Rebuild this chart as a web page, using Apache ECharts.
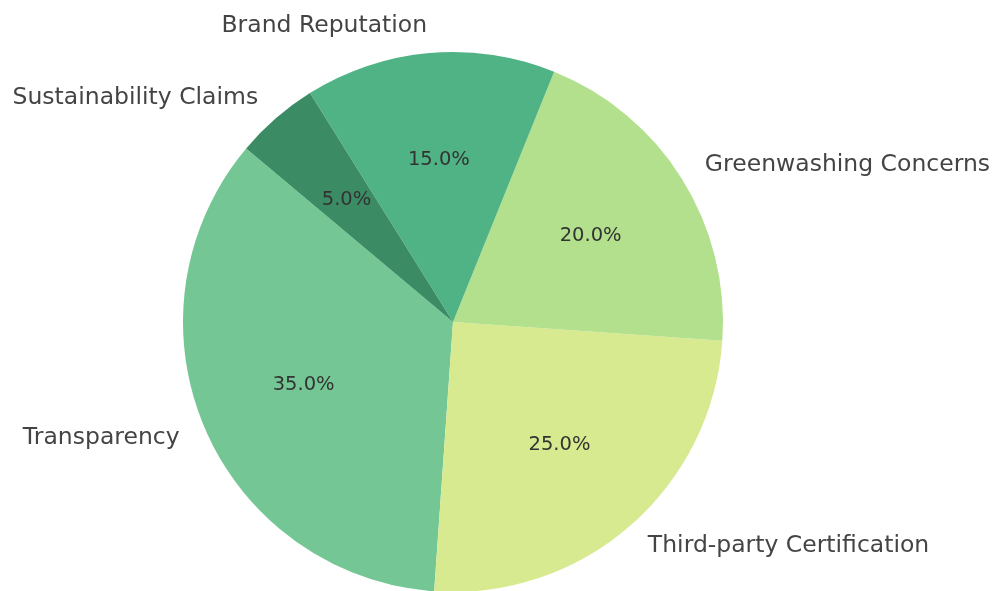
<!DOCTYPE html>
<html>
<head>
<meta charset="utf-8">
<script src="https://cdn.jsdelivr.net/npm/echarts@6/dist/echarts.min.js"></script>
<style>
  html, body { margin: 0; padding: 0; background: #ffffff; }
  #chart { width: 995px; height: 591px; }
</style>
</head>
<body>
<div id="chart"></div>
<script>
// Share of each factor shaping consumer trust in eco claims
const categories = ['Transparency', 'Third-party Certification', 'Greenwashing Concerns', 'Brand Reputation', 'Sustainability Claims'];
const shares = [35, 25, 20, 15, 5];
const sliceColors = ['#74c794', '#d8ea8f', '#b3e08c', '#4fb385', '#3b8b64'];

const center = [453, 322];
const radius = 270;

const sliceData = categories.map((name, i) => ({
  name: name,
  value: shares[i],
  itemStyle: { color: sliceColors[i] }
}));

const chart = echarts.init(document.getElementById('chart'), null, { renderer: 'canvas' });
chart.setOption({
  animation: false,
  backgroundColor: '#ffffff',
  series: [
    {
      // Slices with category names just outside the rim
      type: 'pie',
      center: center,
      radius: [0, radius],
      startAngle: 140,
      clockwise: false,
      avoidLabelOverlap: false,
      silent: true,
      data: sliceData,
      label: {
        show: true,
        position: 'outside',
        formatter: '{b}',
        color: '#444444',
        fontFamily: 'DejaVu Sans',
        fontSize: 23.5,
        distanceToLabelLine: 0
      },
      labelLine: { show: false, length: 27, length2: 0 }
    },
    {
      // Transparent overlay used only to place the percentages about 0.6 of the radius out
      type: 'pie',
      center: center,
      radius: [0, radius * 1.18],
      startAngle: 140,
      clockwise: false,
      avoidLabelOverlap: false,
      silent: true,
      data: categories.map((name, i) => ({ name: name, value: shares[i] })),
      itemStyle: { color: 'rgba(0,0,0,0)' },
      label: {
        show: true,
        position: 'inside',
        formatter: p => p.value.toFixed(1) + '%',
        color: '#333333',
        fontFamily: 'DejaVu Sans',
        fontSize: 19.5
      },
      labelLine: { show: false }
    }
  ]
});
</script>
</body>
</html>
